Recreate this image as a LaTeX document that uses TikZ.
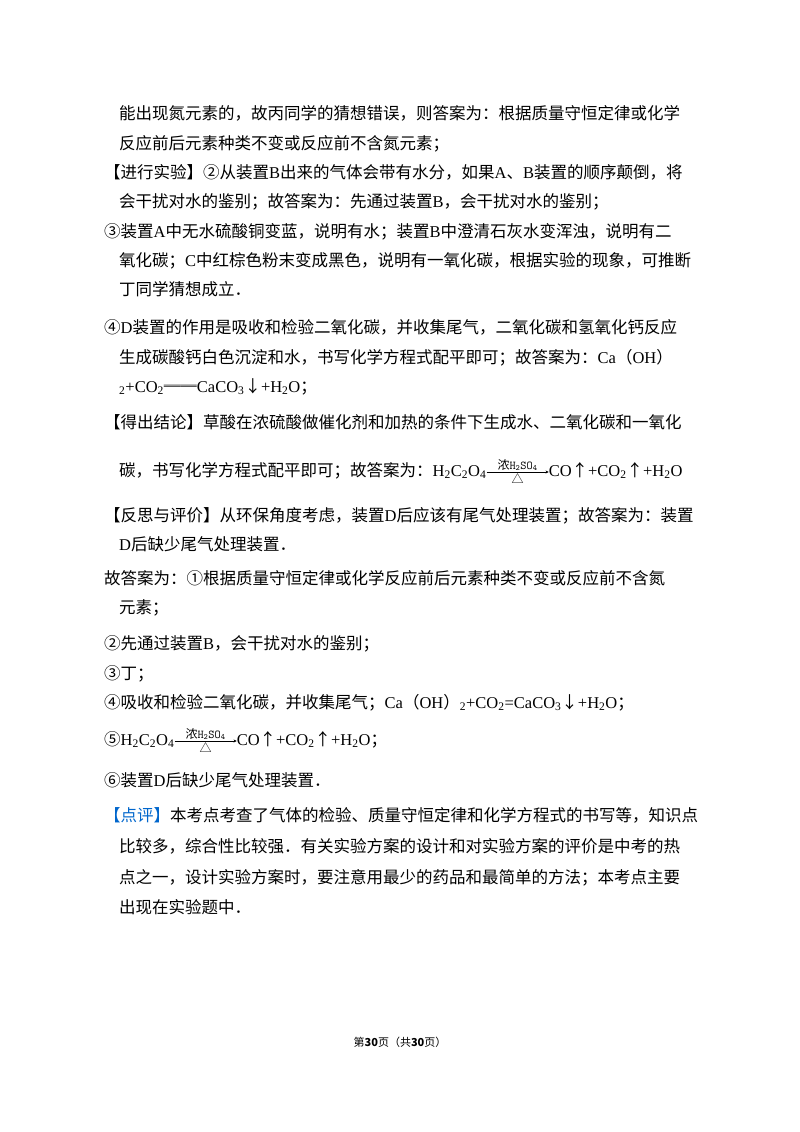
\documentclass[tikz,border=0pt]{standalone}
\usepackage{fontspec}
\setmainfont{Noto Sans CJK SC}
\newfontfamily\lt{Liberation Serif}
\usetikzlibrary{arrows.meta}
\newcommand{\sub}[1]{\textsubscript{#1}}
\newcommand{\rxn}{\tikz[baseline=-4pt]{\draw[-{Stealth[length=3pt,width=3pt]}] (0,0)--(62pt,0); \node[font=\fontsize{12}{12}\selectfont,above,inner sep=1pt] at (31pt,0) {浓\texttt{H\sub{2}SO\sub{4}}}; \node[font=\fontsize{12}{12}\selectfont,below,inner sep=1pt] at (31pt,0){△};}}
\begin{document}
\begin{tikzpicture}[x=1pt,y=-1pt,
  t/.style={anchor=base west,inner sep=0pt,font=\fontsize{16.5}{20}\selectfont},
  ft/.style={anchor=base,inner sep=0pt,font=\fontsize{11}{12}\selectfont}]
\useasboundingbox (0,0) rectangle (800,1132);
\node[t] (l1) at (119,119) {能出现氮元素的，故丙同学的猜想错误，则答案为：根据质量守恒定律或化学};
\node[t] (l2) at (119,149) {反应前后元素种类不变或反应前不含氮元素；};
\node[t] (l3) at (104,178) {【进行实验】②从装置{\lt B}出来的气体会带有水分，如果{\lt A}、{\lt B}装置的顺序颠倒，将};
\node[t] (l4) at (119,207) {会干扰对水的鉴别；故答案为：先通过装置{\lt B}，会干扰对水的鉴别；};
\node[t] (l5) at (104,237) {③装置{\lt A}中无水硫酸铜变蓝，说明有水；装置{\lt B}中澄清石灰水变浑浊，说明有二};
\node[t] (l6) at (119,266) {氧化碳；{\lt C}中红棕色粉末变成黑色，说明有一氧化碳，根据实验的现象，可推断};
\node[t] (l7) at (119,295) {丁同学猜想成立．};
\node[t] (l8) at (104,333) {④{\lt D}装置的作用是吸收和检验二氧化碳，并收集尾气，二氧化碳和氢氧化钙反应};
\node[t] (l9) at (119,363) {生成碳酸钙白色沉淀和水，书写化学方程式配平即可；故答案为：{\lt Ca}（{\lt OH}）};
\node[t] (l10) at (119,392) {{\lt \sub{2}+CO\sub{2}}══{\lt CaCO\sub{3}}↓{\lt +H\sub{2}O}；};
\node[t] (l11) at (104,428) {【得出结论】草酸在浓硫酸做催化剂和加热的条件下生成水、二氧化碳和一氧化};
\node[t] (l12) at (119,476) {碳，书写化学方程式配平即可；故答案为：{\lt H\sub{2}C\sub{2}O\sub{4}}\rxn{\lt CO}↑{\lt +CO\sub{2}}↑{\lt +H\sub{2}O}};
\node[t] (l13) at (104,521) {【反思与评价】从环保角度考虑，装置{\lt D}后应该有尾气处理装置；故答案为：装置};
\node[t] (l14) at (119,550) {{\lt D}后缺少尾气处理装置．};
\node[t] (l15) at (104,584) {故答案为：①根据质量守恒定律或化学反应前后元素种类不变或反应前不含氮};
\node[t] (l16) at (119,613) {元素；};
\node[t] (l17) at (104,649) {②先通过装置{\lt B}，会干扰对水的鉴别；};
\node[t] (l18) at (104,679) {③丁；};
\node[t] (l19) at (104,708) {④吸收和检验二氧化碳，并收集尾气；{\lt Ca}（{\lt OH}）{\lt \sub{2}+CO\sub{2}=CaCO\sub{3}}↓{\lt +H\sub{2}O}；};
\node[t] (l20) at (104,745) {⑤{\lt H\sub{2}C\sub{2}O\sub{4}}\rxn{\lt CO}↑{\lt +CO\sub{2}}↑{\lt +H\sub{2}O}；};
\node[t] (l21) at (104,786) {⑥装置{\lt D}后缺少尾气处理装置．};
\node[t] (l22) at (104,821) {\textcolor[RGB]{0,102,204}{【点评】}本考点考查了气体的检验、质量守恒定律和化学方程式的书写等，知识点};
\node[t] (l23) at (119,852) {比较多，综合性比较强．有关实验方案的设计和对实验方案的评价是中考的热};
\node[t] (l24) at (119,883) {点之一，设计实验方案时，要注意用最少的药品和最简单的方法；本考点主要};
\node[t] (l25) at (119,913) {出现在实验题中．};
\node[ft] (foot) at (400,1046) {第\textbf{30}页（共\textbf{30}页）};
\end{tikzpicture}
\end{document}
